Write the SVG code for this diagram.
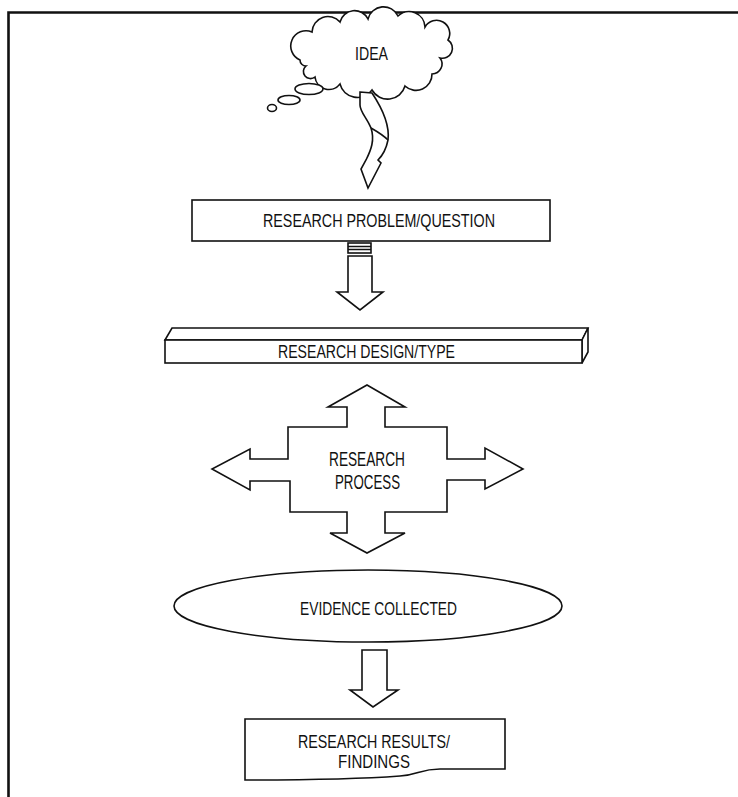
<svg xmlns="http://www.w3.org/2000/svg" width="738" height="797" viewBox="0 0 738 797">
<style>
.s{fill:#fff;stroke:#111;stroke-width:1.6;stroke-linejoin:miter}
.l{fill:none;stroke:#111;stroke-width:1.6}
.t{font-family:"Liberation Sans Narrow","Liberation Sans",Arial,sans-serif;font-size:19px;fill:#111;text-anchor:start}
</style>
<rect width="738" height="797" fill="#fff"/>
<g id="frame">
<path d="M8.5,797 V12.5 H738" fill="none" stroke="#111" stroke-width="2.6"/>
</g>
<g id="idea">
<path class="s" d="M300,60 A13,13 0 0 1 312,32 A16,16 0 0 1 340,22 A15,15 0 0 1 368,19 A16,16 0 0 1 398,16 A16,16 0 0 1 425,27 A13,13 0 0 1 448,40 A10,10 0 0 1 440,58 A10,10 0 0 1 432,74 A16,16 0 0 1 405,86 A18,18 0 0 1 372,90 A18,18 0 0 1 340,84 A14,14 0 0 1 315,77 A7,7 0 0 1 306,66 A6,6 0 0 1 300,60 Z"/>
<ellipse class="s" cx="309" cy="89" rx="14" ry="5.5"/>
<ellipse class="s" cx="289" cy="100" rx="11" ry="4.5"/>
<ellipse class="s" cx="272" cy="108" rx="4.5" ry="3.5"/>
<text class="t" x="355" y="60" textLength="33" lengthAdjust="spacingAndGlyphs">IDEA</text>
</g>
<g id="problem">
<rect class="s" x="192" y="200" width="358" height="41"/>
<text class="t" x="263" y="227" textLength="232" lengthAdjust="spacingAndGlyphs">RESEARCH PROBLEM/QUESTION</text>
</g>
<g id="design">
<path class="s" d="M165,340 L172,328 H588 L582,340 Z"/>
<path class="s" d="M582,340 L588,328 V352 L582,363 Z"/>
<rect class="s" x="165" y="340" width="417" height="23"/>
<text class="t" x="278" y="358" textLength="177" lengthAdjust="spacingAndGlyphs">RESEARCH DESIGN/TYPE</text>
</g>
<g id="process">
<path class="s" d="M367,385 L405,407 H385 V427 H447 V459 H485 V448 L523,469 L485,489 V480 H447 V512 H385 V533 H405 L367,553 L330,533 H347 V512 H290 V481 H250 V490 L212,469 L250,449 V459 H288 V427 H347 V407 H328 Z"/>
<text class="t" x="329" y="466" style="font-size:21px" textLength="76" lengthAdjust="spacingAndGlyphs">RESEARCH</text>
<text class="t" x="335" y="489" style="font-size:21px" textLength="65" lengthAdjust="spacingAndGlyphs">PROCESS</text>
</g>
<g id="evidence">
<ellipse class="s" cx="368" cy="606" rx="194" ry="36"/>
<text class="t" x="300" y="615" textLength="157" lengthAdjust="spacingAndGlyphs">EVIDENCE COLLECTED</text>
</g>
<g id="results">
<path class="s" d="M245,719 H505 V769 H440 C420,769 418,775 400,776 C360,779 300,780 245,780 Z"/>
<text class="t" x="298" y="748" textLength="152" lengthAdjust="spacingAndGlyphs">RESEARCH RESULTS/</text>
<text class="t" x="338" y="768" textLength="72" lengthAdjust="spacingAndGlyphs">FINDINGS</text>
</g>
<g id="connectors">
<path class="s" d="M360,92 L372,93 C382,108 390,124 388,140 C386,150 382,156 378,160 L381,163 L368,188 L361,169 L366,160 C371,150 375,140 371,128 C367,118 360,112 360,105 Z"/>
<path class="l" d="M371,128 C378,132 384,136 388,140"/>
<rect class="s" x="348" y="243" width="23" height="10"/>
<path class="l" d="M348,246.5 H371 M348,249.5 H371"/>
<path class="s" d="M348,256 H372 V292 H383 L360,310 L337,292 H348 Z"/>
<path class="s" d="M362,650 H387 V690 H398 L373,707 L350,690 H362 Z"/>
</g>
</svg>
